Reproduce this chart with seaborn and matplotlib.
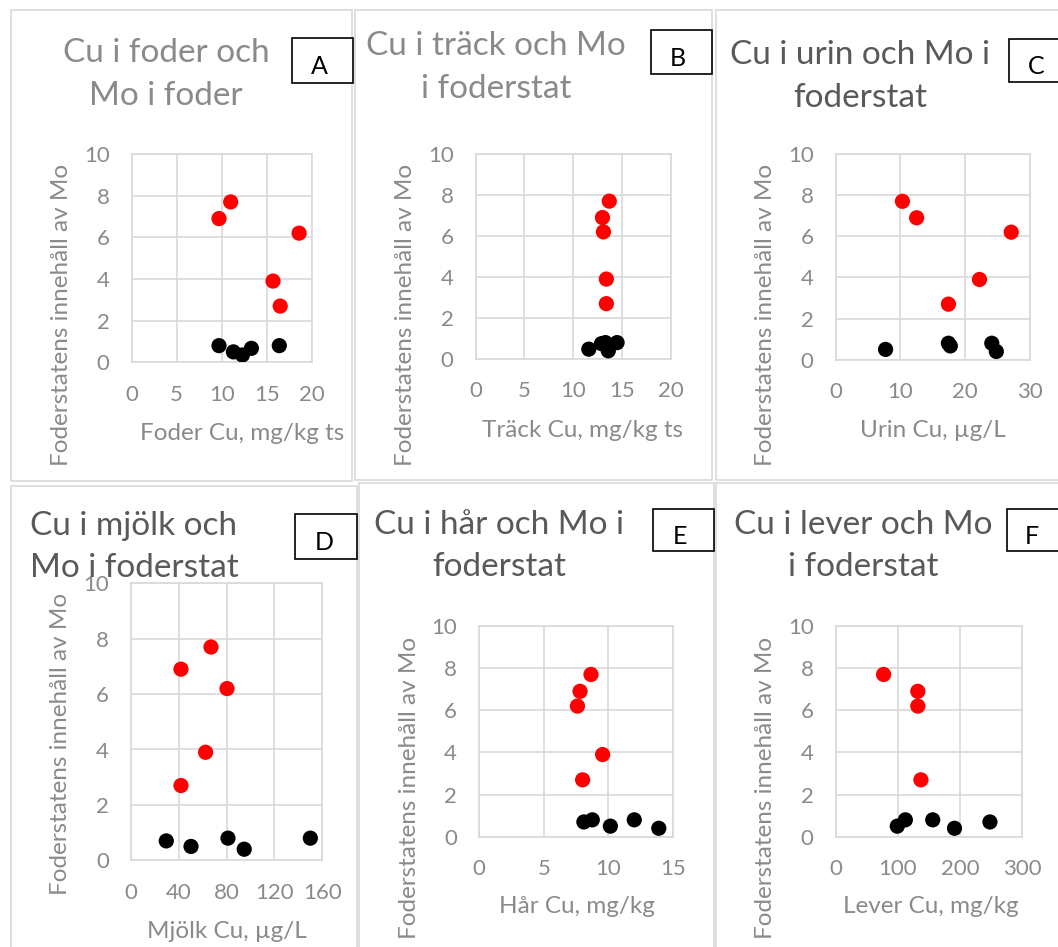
import matplotlib
matplotlib.use("Agg")
import matplotlib.pyplot as plt
from matplotlib.patches import Rectangle
import pandas as pd
import seaborn as sns

W, H = 1058, 947

sns.set_style("white")
plt.rcParams["font.family"] = ["Lato", "DejaVu Sans"]

Y_LABEL = "Foderstatens innehåll av Mo"

# Mo i foderstat (hög = röd, låg = svart)
mo_hog = [7.7, 6.9, 6.2, 3.9, 2.7]

# A: foder
foder_hog_cu = [11.0, 9.7, 18.6, 15.7, 16.5]
foder_lag_cu = [9.7, 11.3, 12.3, 13.3, 16.4]
foder_lag_mo = [0.8, 0.5, 0.35, 0.67, 0.8]

# B: träck
track_hog_cu = [13.7, 13.0, 13.1, 13.4, 13.4]
track_lag_cu = [11.6, 12.9, 13.3, 13.6, 14.5]
track_lag_mo = [0.48, 0.75, 0.8, 0.4, 0.8]

# C: urin
urin_hog_cu = [10.3, 12.5, 27.1, 22.2, 17.4]
urin_lag_cu = [7.7, 17.4, 17.7, 24.1, 24.8]
urin_lag_mo = [0.5, 0.8, 0.67, 0.8, 0.4]

# D: mjölk
mjolk_hog_cu = [66.9, 41.8, 80.3, 62.4, 41.8]
mjolk_lag_cu = [29.5, 50.2, 81.1, 94.7, 150]
mjolk_lag_mo = [0.7, 0.5, 0.8, 0.4, 0.8]

# E: hår
har_hog_cu = [8.65, 7.8, 7.6, 9.55, 8.0]
har_lag_cu = [8.1, 8.75, 10.15, 12.0, 13.9]
har_lag_mo = [0.7, 0.8, 0.5, 0.8, 0.4]

# F: lever (en hög-punkt saknas)
lever_hog_cu = [77, 132, 132, 137]
lever_hog_mo = [7.7, 6.9, 6.2, 2.7]
lever_lag_cu = [99, 112, 156, 191, 248]
lever_lag_mo = [0.5, 0.8, 0.8, 0.4, 0.7]

titles = ["Cu i foder och\nMo i foder", "Cu i träck och Mo\ni foderstat",
          "Cu i urin och Mo i\nfoderstat", "Cu i mjölk och\nMo i foderstat",
          "Cu i hår och Mo i\nfoderstat", "Cu i lever och Mo\ni foderstat"]
letters = ["A", "B", "C", "D", "E", "F"]
x_labels = ["Foder Cu, mg/kg ts", "Träck Cu, mg/kg ts", "Urin Cu, µg/L",
            "Mjölk Cu, µg/L", "Hår Cu, mg/kg", "Lever Cu, mg/kg"]
x_ticks = [[0, 5, 10, 15, 20], [0, 5, 10, 15, 20], [0, 10, 20, 30],
           [0, 40, 80, 120, 160], [0, 5, 10, 15], [0, 100, 200, 300]]

data = [
    (foder_hog_cu, mo_hog, foder_lag_cu, foder_lag_mo),
    (track_hog_cu, mo_hog, track_lag_cu, track_lag_mo),
    (urin_hog_cu, mo_hog, urin_lag_cu, urin_lag_mo),
    (mjolk_hog_cu, mo_hog, mjolk_lag_cu, mjolk_lag_mo),
    (har_hog_cu, mo_hog, har_lag_cu, har_lag_mo),
    (lever_hog_cu, lever_hog_mo, lever_lag_cu, lever_lag_mo),
]

# layout in pixels
plot_boxes = [(131.7, 154, 311.7, 362.3), (475.7, 154, 670.7, 359),
              (835.7, 154, 1030, 359.7), (131, 583.3, 322.3, 860.3),
              (479.3, 626, 673, 836.7), (835.7, 626, 1022.3, 836.7)]
chart_boxes = [(11, 10, 352, 481), (355, 10, 712, 480), (716, 10, 1062, 480),
               (11, 486, 357, 952), (359, 483, 714, 952), (716, 483, 1062, 952)]
title_pos = [(166, 74.5, "#8a8a8a"), (496, 67.5, "#8a8a8a"), (860, 76.5, "#595959"),
             (134, 547, "#595959"), (499, 546, "#595959"), (863, 546, "#595959")]
letter_boxes = [(291.7, 38, 353, 83), (650.7, 30, 712, 74), (1009, 39, 1065, 82),
                (295, 514, 357, 559), (653, 509, 714, 551), (1007, 509, 1065, 551)]
letter_pos = [(319, 66), (678, 59), (1036, 66), (324, 542), (680, 537), (1032, 537)]
ylabel_pos = [(62, 315), (405, 315), (765, 315), (61, 744), (410, 788), (766, 788)]
xlabel_pos = [(241.7, 433), (583, 430), (933, 430), (226.7, 931.7), (576.7, 906.7), (931, 906.7)]

GRID = "#d9d9d9"
TXT = "#8a8a8a"


def fx(x):
    return x / W


def fy(y):
    return 1 - y / H


fig = plt.figure(figsize=(W / 100, H / 100), dpi=100)

for i in range(6):
    cx0, cy0, cx1, cy1 = chart_boxes[i]
    fig.add_artist(Rectangle((fx(cx0), fy(cy1)), fx(cx1 - cx0), (cy1 - cy0) / H,
                             transform=fig.transFigure, fill=False,
                             edgecolor="#d9d9d9", lw=1.2))

    x0, y0, x1, y1 = plot_boxes[i]
    ax = fig.add_axes([fx(x0), fy(y1), fx(x1 - x0), (y1 - y0) / H])

    hx, hy, lx, ly = data[i]
    df = pd.DataFrame({
        "cu": list(hx) + list(lx),
        "mo": list(hy) + list(ly),
        "grupp": ["hög"] * len(hx) + ["låg"] * len(lx),
    })
    sns.scatterplot(data=df, x="cu", y="mo", hue="grupp",
                    palette={"hög": "#ff0000", "låg": "#000000"},
                    s=120, linewidth=0, legend=False, ax=ax, zorder=3)

    ax.set_xlim(x_ticks[i][0], x_ticks[i][-1])
    ax.set_ylim(0, 10)
    ax.set_xticks(x_ticks[i])
    ax.set_yticks([0, 2, 4, 6, 8, 10])
    ax.grid(True, color=GRID, lw=1.2)
    ax.set_axisbelow(True)
    for sp in ax.spines.values():
        sp.set_color(GRID)
        sp.set_linewidth(1.2)
    ax.tick_params(length=0, labelsize=16, labelcolor=TXT)
    ax.tick_params(axis="x", pad=16)
    ax.tick_params(axis="y", pad=16)
    ax.set_xlabel("")
    ax.set_ylabel("")
    for lbl in ax.get_xticklabels() + ax.get_yticklabels():
        lbl.set_clip_on(False)

    tx, ty, tc = title_pos[i]
    fig.text(fx(tx), fy(ty), titles[i], ha="center", va="center",
             fontsize=24, color=tc, linespacing=1.52, zorder=5)

    bx0, by0, bx1, by1 = letter_boxes[i]
    fig.add_artist(Rectangle((fx(bx0), fy(by1)), fx(bx1 - bx0), (by1 - by0) / H,
                             transform=fig.transFigure, facecolor="white",
                             edgecolor="black", lw=1.2))
    lx_, ly_ = letter_pos[i]
    fig.text(fx(lx_), fy(ly_), letters[i], ha="center", va="center",
             fontsize=18, color="black")

    yx, yy = ylabel_pos[i]
    fig.text(fx(yx), fy(yy), Y_LABEL, rotation=90, ha="center", va="center",
             fontsize=17.5, color=TXT)
    xx, xy = xlabel_pos[i]
    fig.text(fx(xx), fy(xy), x_labels[i], ha="center", va="center",
             fontsize=17.5, color=TXT)

fig.savefig("out.png", dpi=100)
